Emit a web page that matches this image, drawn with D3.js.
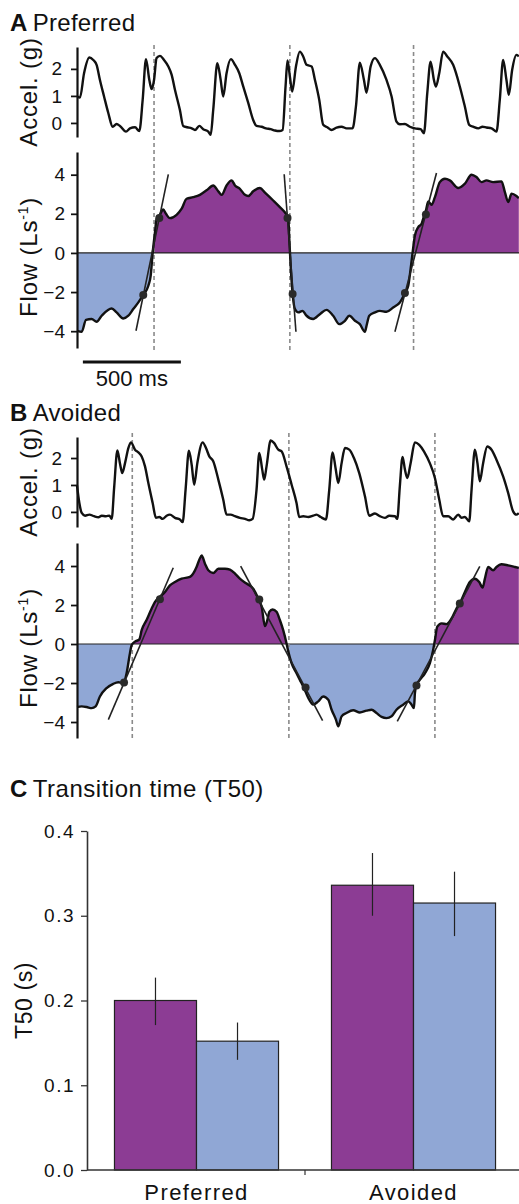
<!DOCTYPE html>
<html>
<head>
<meta charset="utf-8">
<script src="https://cdnjs.cloudflare.com/ajax/libs/d3/7.8.5/d3.min.js"></script>
<style>
  body { margin: 0; background: #fff; }
  svg { display: block; font-family: "Liberation Sans", Arial, sans-serif; }
</style>
</head>
<body>
<div id="chart"></div>
<script>
/**
 * DATA (time in ms, accel in g, flow in L/s)
 * */
const accelA = [[2,0.98],[15,0.94],[36,1.84],[63,2.42],[83,2.33],[100,2.15],[117,1.59],[138,0.98],[160,0.36],[182,-0.14],[202,-0.04],[219,-0.11],[250,-0.32],[270,-0.2],[296,-0.16],[318,-0.3],[335,0.85],[352,2.36],[369,1.59],[381,1.25],[393,1.59],[406,2.4],[423,2.48],[444,2.33],[466,2.09],[483,1.78],[500,1.22],[525,0.48],[542,-0.11],[563,-0.16],[585,-0.2],[602,-0.26],[624,-0.11],[644,-0.23],[670,-0.32],[682,-0.44],[695,0.48],[716,2.21],[733,1.59],[746,0.98],[763,1.84],[785,2.36],[806,2.15],[828,1.84],[848,1.35],[874,0.73],[899,0.11],[916,-0.11],[942,-0.14],[964,-0.2],[988,-0.23],[1010,-0.28],[1032,-0.3],[1049,-0.26],[1064,1.35],[1074,2.31],[1086,1.72],[1098,1.16],[1117,2.09],[1137,2.64],[1154,2.46],[1171,2.15],[1197,2.09],[1214,1.59],[1236,0.85],[1256,-0.07],[1277,-0.16],[1299,-0.26],[1324,-0.17],[1350,-0.14],[1375,-0.2],[1406,-0.2],[1423,0.6],[1443,2.23],[1464,1.59],[1477,1.12],[1498,2.09],[1520,2.4],[1545,2.15],[1579,1.59],[1605,0.98],[1630,0.05],[1647,-0.05],[1673,-0.04],[1698,-0.14],[1724,-0.2],[1753,-0.23],[1770,-0.38],[1787,1.1],[1804,2.27],[1821,1.59],[1831,1.35],[1848,1.84],[1868,2.64],[1889,2.46],[1919,2.15],[1953,1.35],[1979,0.6],[2001,-0.07],[2021,-0.14],[2047,-0.2],[2069,-0.14],[2089,-0.17],[2115,-0.2],[2140,-0.32],[2157,0.85],[2174,2.33],[2191,1.59],[2203,1.04],[2220,1.96],[2242,2.52],[2254,2.46]];

const flowA = [[2,-3.98],[24,-4.03],[46,-3.42],[75,-3.38],[100,-3.52],[126,-3.21],[177,-2.84],[202,-3.04],[236,-3.35],[262,-3.21],[287,-2.87],[313,-2.53],[338,-2.15],[364,-1.68],[376,-1.16],[386,0],[398,1.06],[406,1.74],[420,1.91],[440,2.22],[454,2.0],[474,1.78],[508,1.95],[534,2.26],[559,2.77],[593,2.85],[627,2.97],[661,3.2],[695,3.45],[721,3.15],[738,2.97],[763,3.45],[789,3.71],[806,3.45],[831,3.28],[857,2.97],[874,2.91],[899,3.15],[933,3.32],[959,3.08],[1001,2.68],[1035,2.34],[1066,2.0],[1078,1.79],[1083,0.72],[1090,-0.65],[1100,-2.1],[1112,-2.87],[1129,-3.04],[1151,-2.96],[1168,-3.18],[1205,-3.38],[1239,-3.13],[1273,-2.91],[1307,-3.21],[1338,-3.64],[1367,-3.47],[1389,-3.21],[1418,-3.47],[1443,-3.64],[1469,-4.03],[1477,-3.73],[1491,-3.21],[1520,-3.04],[1545,-2.96],[1579,-3.01],[1613,-2.79],[1647,-2.53],[1673,-2.05],[1690,-1.68],[1702,-0.82],[1712,0],[1724,0.89],[1741,1.32],[1758,1.49],[1766,1.74],[1780,2.17],[1792,2.63],[1809,2.46],[1826,2.85],[1851,3.62],[1877,3.79],[1902,3.71],[1945,3.32],[1979,3.54],[2013,4.0],[2038,3.88],[2064,3.62],[2089,3.71],[2123,3.62],[2166,3.66],[2183,3.11],[2200,2.6],[2217,3.03],[2242,2.91],[2254,2.8]];

const tangentA = [[[301,-3.98],[466,4.02]],[[1057,4.02],[1117,-4.03]],[[1622,-4.03],[1834,4.09]]];
const dotsA = [[338,-2.15],[420,1.79],[1074,1.79],[1100,-2.1],[1673,-2.05],[1780,1.97]];
const onsetA = [393, 1086, 1717];

const accelB = [[0,0.98],[12,0.33],[24,-0.04],[41,-0.14],[63,-0.1],[87,-0.16],[109,-0.2],[126,-0.14],[148,-0.16],[165,-0.14],[177,-0.26],[190,0.95],[206,2.28],[219,1.81],[231,1.44],[245,1.81],[262,2.37],[275,2.58],[296,2.31],[313,2.21],[330,2.06],[347,1.69],[364,1.07],[386,0.33],[403,-0.22],[420,-0.19],[437,-0.26],[457,-0.14],[474,-0.1],[500,-0.22],[525,-0.28],[539,-0.38],[554,0.83],[571,2.27],[585,1.75],[598,1.01],[614,1.81],[641,2.58],[658,2.37],[675,2.06],[695,1.88],[721,1.2],[746,0.46],[763,-0.1],[784,-0.1],[806,-0.16],[831,-0.22],[857,-0.26],[879,-0.31],[896,-0.26],[916,0.83],[930,2.19],[945,1.57],[955,1.2],[967,1.69],[988,2.65],[1005,2.56],[1027,2.31],[1044,2.25],[1069,1.69],[1095,1.01],[1120,0.33],[1134,-0.19],[1154,-0.16],[1180,-0.19],[1205,-0.14],[1222,-0.1],[1243,-0.19],[1270,-0.28],[1287,0.83],[1304,2.21],[1319,1.63],[1333,1.07],[1350,1.81],[1367,2.37],[1389,2.31],[1413,2.0],[1440,1.44],[1469,0.58],[1491,-0.14],[1520,-0.06],[1545,-0.16],[1571,-0.22],[1593,-0.14],[1622,-0.16],[1634,-0.26],[1647,0.95],[1661,2.04],[1673,1.57],[1685,1.26],[1702,1.81],[1724,2.58],[1746,2.49],[1770,2.25],[1800,1.81],[1826,1.26],[1848,0.46],[1868,-0.16],[1894,-0.16],[1919,-0.28],[1945,-0.1],[1962,-0.22],[1979,-0.19],[2001,-0.35],[2013,0.83],[2030,2.31],[2043,1.81],[2055,1.14],[2072,1.81],[2093,2.43],[2115,2.31],[2140,1.94],[2174,1.32],[2200,0.7],[2225,0.02],[2242,-0.1],[2254,-0.04]];

const flowB = [[0,-3.23],[24,-3.2],[49,-3.23],[75,-3.29],[95,-3.2],[117,-2.69],[151,-2.26],[185,-2.04],[211,-1.96],[236,-2.01],[253,-1.5],[270,-0.48],[279,-0.05],[296,0.12],[318,0.24],[330,0.71],[355,1.23],[381,1.82],[398,2.16],[423,2.42],[449,2.67],[474,3.01],[500,3.18],[534,3.35],[576,3.44],[610,3.95],[624,4.32],[636,4.54],[653,4.12],[670,3.78],[695,3.64],[721,3.86],[755,3.86],[780,3.81],[806,3.61],[831,3.35],[865,3.1],[899,2.84],[925,2.33],[942,1.91],[959,0.92],[971,1.23],[981,1.65],[998,1.77],[1018,1.65],[1035,1.23],[1052,0.71],[1069,0.03],[1078,-0.39],[1095,-0.99],[1120,-1.5],[1137,-1.84],[1158,-2.26],[1180,-2.77],[1205,-3.11],[1231,-2.94],[1256,-2.69],[1282,-2.86],[1299,-3.37],[1321,-3.88],[1333,-4.22],[1350,-3.71],[1375,-3.54],[1409,-3.4],[1443,-3.51],[1477,-3.42],[1503,-3.37],[1528,-3.54],[1554,-3.74],[1579,-3.8],[1605,-3.71],[1630,-3.37],[1664,-3.11],[1690,-2.94],[1707,-3.11],[1719,-3.29],[1724,-2.52],[1732,-2.09],[1749,-1.84],[1775,-1.5],[1800,-0.99],[1817,-0.31],[1826,0.2],[1838,0.89],[1860,1.06],[1885,1.02],[1911,1.31],[1936,1.82],[1953,2.08],[1979,2.67],[2004,3.18],[2030,3.35],[2052,3.18],[2069,2.89],[2081,3.35],[2098,3.95],[2123,3.78],[2140,3.95],[2166,4.09],[2200,4.03],[2234,3.95],[2254,3.9]];

const tangentB = [[[160,-3.88],[491,3.91]],[[835,4.0],[1253,-3.93]],[[1634,-3.97],[2055,3.98]]];
const dotsB = [[240,-1.97],[423,2.3],[930,2.28],[1166,-2.23],[1732,-2.13],[1953,2.08]];
const onsetB = [282, 1081, 1826];

// panel C: transition time T50 (s)
const gaitGroups = ["Preferred", "Avoided"];
const phases = ["flow > 0", "flow < 0"];
const t50Mean = [[0.200, 0.152], [0.336, 0.315]];
const t50Low = [[0.171, 0.130], [0.300, 0.276]];
const t50High = [[0.227, 0.174], [0.374, 0.352]];

const accelTicks = [0, 1, 2];
const flowTicks = [-4, -2, 0, 2, 4];
const t50Ticks = [0, 0.1, 0.2, 0.3, 0.4];

/**
 * CONSTANTS AND GLOBALS
 * */
const width = 519, height = 1204;
const purple = "#8c3c94", blue = "#90a7d5";
const fontFamily = '"Liberation Sans", Arial, sans-serif';

const svg = d3.select("#chart").append("svg")
  .attr("width", width)
  .attr("height", height);

const x = d3.scaleLinear().domain([0, 2255]).range([77, 519]);

const panels = [
  { id: "A", name: "Preferred", titleY: 31, accel: accelA, flow: flowA, tangents: tangentA, dots: dotsA, onsets: onsetA,
    accelDomain: [-0.52, 2.81], accelRange: [137, 47], flowDomain: [-4.86, 5.16], flowRange: [348, 152], dash: [45, 351], scaleBar: true },
  { id: "B", name: "Avoided", titleY: 421, accel: accelB, flow: flowB, tangents: tangentB, dots: dotsB, onsets: onsetB,
    accelDomain: [-0.56, 2.78], accelRange: [527, 437], flowDomain: [-4.82, 5.18], flowRange: [738, 543], dash: [433, 740], scaleBar: false }
];

function styleAxis(g, fontSize, stroke, lineWidth) {
  g.attr("font-family", fontFamily).attr("font-size", fontSize);
  g.select(".domain").attr("stroke", stroke).attr("stroke-width", lineWidth);
  g.selectAll(".tick line").attr("stroke", stroke).attr("stroke-width", lineWidth * 0.8);
  g.selectAll(".tick text").attr("fill", "#111");
}

function title(y, letter, text, size, spacing) {
  const t = svg.append("text").attr("x", 10).attr("y", y)
    .attr("font-size", size).attr("fill", "#111").attr("letter-spacing", spacing);
  t.append("tspan").attr("font-weight", "bold").text(letter);
  t.append("tspan").attr("dx", 5).text(text);
}

/**
 * PANELS A & B : acceleration + flow traces
 * */
panels.forEach(p => {
  title(p.titleY, p.id, p.name, 24, 0.3);

  const ya = d3.scaleLinear().domain(p.accelDomain).range(p.accelRange);
  const yf = d3.scaleLinear().domain(p.flowDomain).range(p.flowRange);
  const y0 = yf(0);

  // clip paths for positive / negative flow
  const defs = svg.append("defs");
  defs.append("clipPath").attr("id", "up" + p.id)
    .append("rect").attr("x", 77).attr("y", 0).attr("width", width).attr("height", y0);
  defs.append("clipPath").attr("id", "down" + p.id)
    .append("rect").attr("x", 77).attr("y", y0).attr("width", width).attr("height", height - y0);

  const area = d3.area()
    .x(d => x(d[0])).y0(y0).y1(d => yf(d[1]))
    .curve(d3.curveMonotoneX);

  svg.append("path").datum(p.flow).attr("d", area)
    .attr("fill", purple).attr("clip-path", `url(#up${p.id})`);
  svg.append("path").datum(p.flow).attr("d", area)
    .attr("fill", blue).attr("clip-path", `url(#down${p.id})`);

  // zero line
  svg.append("line")
    .attr("x1", 77).attr("x2", width).attr("y1", y0).attr("y2", y0)
    .attr("stroke", "#222").attr("stroke-width", 1.2);

  // onset markers
  svg.selectAll(null).data(p.onsets).join("line")
    .attr("x1", d => x(d)).attr("x2", d => x(d))
    .attr("y1", p.dash[0]).attr("y2", p.dash[1])
    .attr("stroke", "#8a8a8a").attr("stroke-width", 1.6)
    .attr("stroke-dasharray", "4,3");

  const accelLine = d3.line().x(d => x(d[0])).y(d => ya(d[1])).curve(d3.curveMonotoneX);
  const flowLine = d3.line().x(d => x(d[0])).y(d => yf(d[1])).curve(d3.curveMonotoneX);

  svg.append("path").datum(p.accel).attr("d", accelLine)
    .attr("fill", "none").attr("stroke", "#111").attr("stroke-width", 2.4).attr("stroke-linejoin", "round");
  svg.append("path").datum(p.flow).attr("d", flowLine)
    .attr("fill", "none").attr("stroke", "#111").attr("stroke-width", 2.4).attr("stroke-linejoin", "round");

  // tangent lines through the 50% points
  svg.selectAll(null).data(p.tangents).join("line")
    .attr("x1", d => x(d[0][0])).attr("y1", d => yf(d[0][1]))
    .attr("x2", d => x(d[1][0])).attr("y2", d => yf(d[1][1]))
    .attr("stroke", "#222").attr("stroke-width", 1.6);

  svg.selectAll(null).data(p.dots).join("circle")
    .attr("cx", d => x(d[0])).attr("cy", d => yf(d[1])).attr("r", 4)
    .attr("fill", "#2a2a2a");

  // axes
  const gA = svg.append("g").attr("transform", "translate(77,0)")
    .call(d3.axisLeft(ya).tickValues(accelTicks).tickFormat(d3.format("d"))
      .tickSize(6).tickPadding(9).tickSizeOuter(0));
  styleAxis(gA, 19, "#111", 2.2);
  const gF = svg.append("g").attr("transform", "translate(77,0)")
    .call(d3.axisLeft(yf).tickValues(flowTicks).tickFormat(d3.format("d"))
      .tickSize(6).tickPadding(6).tickSizeOuter(0));
  styleAxis(gF, 19, "#111", 2.2);

  const aMid = (p.accelRange[0] + p.accelRange[1]) / 2;
  svg.append("text")
    .attr("transform", `translate(37,${aMid}) rotate(-90)`)
    .attr("text-anchor", "middle").attr("font-size", 24).attr("letter-spacing", 0.8).attr("fill", "#111")
    .text("Accel. (g)");

  const fMid = yf(0) + 4;
  const fl = svg.append("text")
    .attr("transform", `translate(37,${fMid}) rotate(-90)`)
    .attr("text-anchor", "middle").attr("font-size", 24).attr("letter-spacing", 0.8).attr("fill", "#111");
  fl.append("tspan").text("Flow (Ls");
  fl.append("tspan").attr("font-size", 14).attr("dy", -9).text("-1");
  fl.append("tspan").attr("dy", 9).text(")");

  if (p.scaleBar) {
    svg.append("line")
      .attr("x1", x(30)).attr("x2", x(530)).attr("y1", 362).attr("y2", 362)
      .attr("stroke", "#111").attr("stroke-width", 3);
    svg.append("text").attr("x", x(280)).attr("y", 386)
      .attr("text-anchor", "middle").attr("font-size", 22).attr("fill", "#111")
      .text("500 ms");
  }
});

/**
 * PANEL C : bar chart of T50
 * */
title(797, "C", "Transition time (T50)", 24, 0.5);

const yC = d3.scaleLinear().domain([0, 0.4]).range([1170, 831]);
const x0 = d3.scaleBand().domain(gaitGroups).range([88, 522]).paddingInner(0.244).paddingOuter(0.122);
const x1 = d3.scaleBand().domain(phases).range([0, x0.bandwidth()]);
const colors = d3.scaleOrdinal().domain(phases).range([purple, blue]);

const rows = [];
gaitGroups.forEach((g, i) => phases.forEach((ph, j) => {
  rows.push({ group: g, phase: ph, mean: t50Mean[i][j], lo: t50Low[i][j], hi: t50High[i][j] });
}));

svg.selectAll("rect.bar").data(rows).join("rect")
  .attr("class", "bar")
  .attr("x", d => x0(d.group) + x1(d.phase))
  .attr("y", d => yC(d.mean))
  .attr("width", x1.bandwidth())
  .attr("height", d => yC(0) - yC(d.mean))
  .attr("fill", d => colors(d.phase))
  .attr("stroke", "#222").attr("stroke-width", 1.2);

svg.selectAll("line.err").data(rows).join("line")
  .attr("class", "err")
  .attr("x1", d => x0(d.group) + x1(d.phase) + x1.bandwidth() / 2)
  .attr("x2", d => x0(d.group) + x1(d.phase) + x1.bandwidth() / 2)
  .attr("y1", d => yC(d.lo)).attr("y2", d => yC(d.hi))
  .attr("stroke", "#222").attr("stroke-width", 1.2);

const gC = svg.append("g").attr("transform", "translate(87,0)")
  .call(d3.axisLeft(yC).tickValues(t50Ticks).tickFormat(d3.format(".1f")).tickSize(6).tickPadding(6).tickSizeOuter(0));
styleAxis(gC, 19, "#333", 1.6);
gC.selectAll(".tick text").attr("letter-spacing", 1.5);

// x axis baseline with a divider tick between groups
svg.append("line").attr("x1", 87).attr("x2", width).attr("y1", yC(0)).attr("y2", yC(0))
  .attr("stroke", "#333").attr("stroke-width", 1.6);
const mid = (x0(gaitGroups[0]) + x0.bandwidth() + x0(gaitGroups[1])) / 2;
svg.append("line").attr("x1", mid).attr("x2", mid).attr("y1", yC(0)).attr("y2", yC(0) + 5)
  .attr("stroke", "#333").attr("stroke-width", 1.2);

svg.selectAll("text.cat").data(gaitGroups).join("text")
  .attr("class", "cat")
  .attr("x", d => x0(d) + x0.bandwidth() / 2)
  .attr("y", 1200)
  .attr("text-anchor", "middle").attr("font-size", 22).attr("letter-spacing", 1.4).attr("fill", "#111")
  .text(d => d);

svg.append("text")
  .attr("transform", `translate(32,${yC(0.2)}) rotate(-90)`)
  .attr("text-anchor", "middle").attr("font-size", 23).attr("letter-spacing", 0.6).attr("fill", "#111")
  .text("T50 (s)");
</script>
</body>
</html>
